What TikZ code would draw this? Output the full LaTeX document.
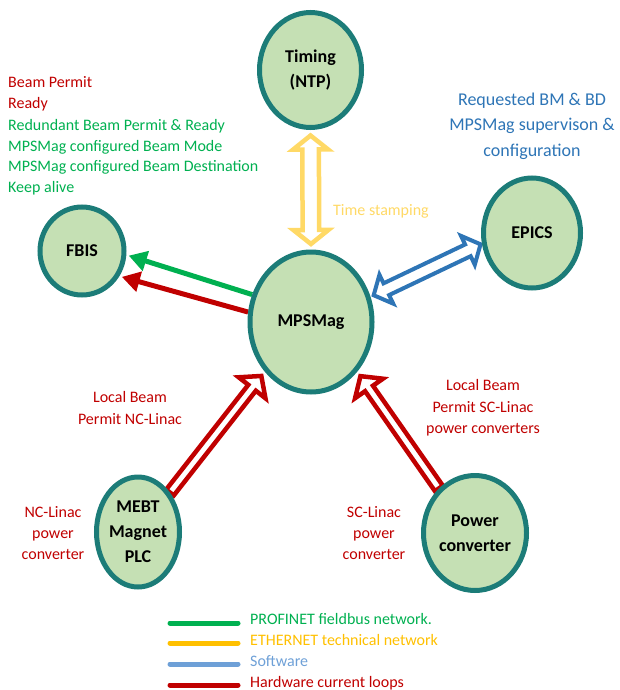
\documentclass[tikz,border=0pt]{standalone}
\usepackage{fontspec}
\setmainfont{Carlito}
\usetikzlibrary{shapes.geometric,calc,arrows.meta,backgrounds}
\definecolor{tealc}{RGB}{28,124,120}
\definecolor{fillg}{RGB}{197,224,180}
\definecolor{redc}{RGB}{192,0,0}
\definecolor{greenc}{RGB}{0,176,80}
\definecolor{yellc}{RGB}{255,217,102}
\definecolor{yelll}{RGB}{255,192,0}
\definecolor{bluec}{RGB}{46,117,182}
\definecolor{bluel}{RGB}{110,160,215}
\tikzset{
  unit/.style={ellipse, draw=tealc, line width=5pt, fill=fillg, inner sep=0pt,
    align=center, font=\bfseries\fontsize{18}{25}\selectfont},
  lab/.style={inner sep=0pt, font=\fontsize{16}{20}\selectfont},
  blab/.style={inner sep=0pt, font=\fontsize{18}{24}\selectfont, text=bluec},
  yarr/.style={draw=yellc, fill=white, line width=4.5pt},
  barr/.style={draw=bluec, fill=white, line width=4pt},
  rarr/.style={draw=redc, fill=white, line width=4.5pt},
  solidarr/.style={line width=5pt, -{Triangle[length=18pt,width=20pt]}, shorten >=2.5pt},
  leg/.style={line width=5pt, line cap=round}
}
% hollow single arrow: style, from, to, half shaft, half head, head length
\newcommand\harrowone[6]{%
  \coordinate (hxn) at ($(#3)!#6!(#2)$);
  \path[#1] ($(#2)!#4!90:(#3)$) -- ($(hxn)!#4!-90:(#2)$) -- ($(hxn)!#5!-90:(#2)$) -- (#3)
    -- ($(hxn)!#5!90:(#2)$) -- ($(hxn)!#4!90:(#2)$) -- ($(#2)!#4!-90:(#3)$) -- cycle;
}
% hollow double arrow
\newcommand\harrowtwo[6]{%
  \coordinate (hxa) at ($(#2)!#6!(#3)$);
  \coordinate (hxb) at ($(#3)!#6!(#2)$);
  \path[#1] (#2) -- ($(hxa)!#5!90:(#3)$) -- ($(hxa)!#4!90:(#3)$) -- ($(hxb)!#4!-90:(#2)$)
    -- ($(hxb)!#5!-90:(#2)$) -- (#3) -- ($(hxb)!#5!90:(#2)$) -- ($(hxb)!#4!90:(#2)$)
    -- ($(hxa)!#4!-90:(#3)$) -- ($(hxa)!#5!-90:(#3)$) -- cycle;
}
\begin{document}
\begin{tikzpicture}[x=1pt,y=-1pt]
\useasboundingbox (0,0) rectangle (619,690);

% nodes
\node[unit, minimum width=102pt, minimum height=115pt] (tim) at (310.5,70) {Timing\\(NTP)};
\node[unit, minimum width=122pt, minimum height=140pt] (mps) at (311,322) {MPSMag};
\node[unit, minimum width=84pt, minimum height=88pt] (fbis) at (82,251) {FBIS};
\node[unit, minimum width=97pt, minimum height=110pt] (epics) at (532,233) {EPICS};
\node[unit, minimum width=83pt, minimum height=110pt] (mebt) at (138,532) {MEBT\\Magnet\\PLC};
\node[unit, minimum width=103pt, minimum height=115pt] (pc) at (475,533) {Power\\converter};

% connectors
\begin{scope}[on background layer]
  \coordinate (y1) at ($(tim.south)!5.5pt!(mps.north)$);
  \coordinate (y2) at ($(mps.north)!5.5pt!(tim.south)$);
  \harrowtwo{yarr}{y1}{y2}{8.3pt}{17.5pt}{14pt}

  \coordinate (b1) at ($(mps.23)!3.5pt!(epics.192)$);
  \coordinate (b2) at ($(epics.192)!1.5pt!(mps.23)$);
  \harrowtwo{barr}{b1}{b2}{6.5pt}{16pt}{14pt}

  \coordinate (r1) at (mebt.51);
  \coordinate (r2) at ($(mps.227)!5.5pt!(mebt.51)$);
  \harrowone{rarr}{r1}{r2}{4.8pt}{17pt}{15pt}

  \coordinate (r3) at (pc.129);
  \coordinate (r4) at ($(mps.313)!5.5pt!(pc.129)$);
  \harrowone{rarr}{r3}{r4}{4.8pt}{17pt}{15pt}

  \draw[solidarr, greenc] (mps.155) -- (fbis.-5);
  \draw[solidarr, redc] (mps.171) -- (fbis.-34);
\end{scope}

% left list
\node[lab, text=redc, anchor=base west] (l1) at (8,88) {Beam Permit};
\node[lab, text=redc, anchor=base west] (l2) at (8,109) {Ready};
\node[lab, text=greenc, anchor=base west] (l3) at (8,130) {Redundant Beam Permit \& Ready};
\node[lab, text=greenc, anchor=base west] (l4) at (8,151) {MPSMag configured Beam Mode};
\node[lab, text=greenc, anchor=base west] (l5) at (8,171.5) {MPSMag configured Beam Destination};
\node[lab, text=greenc, anchor=base west] (l6) at (8,192) {Keep alive};

% blue text
\node[blab, anchor=base] (bt1) at (532,106) {Requested BM \& BD};
\node[blab, anchor=base] (bt2) at (532,131) {MPSMag supervison \&};
\node[blab, anchor=base] (bt3) at (532,156) {configuration};

% time stamping
\node[lab, text=yellc, anchor=base west] (ts) at (333,215) {Time stamping};

% red labels
\node[lab, text=redc, anchor=base] (nc1) at (130,402) {Local Beam};
\node[lab, text=redc, anchor=base] (nc2) at (130,424) {Permit NC-Linac};
\node[lab, text=redc, anchor=base] (sc1) at (483,390) {Local Beam};
\node[lab, text=redc, anchor=base] (sc2) at (483,412) {Permit SC-Linac};
\node[lab, text=redc, anchor=base] (sc3) at (483,433) {power converters};
\node[lab, text=redc, anchor=base] (np1) at (53,517) {NC-Linac};
\node[lab, text=redc, anchor=base] (np2) at (53,538) {power};
\node[lab, text=redc, anchor=base] (np3) at (53,559) {converter};
\node[lab, text=redc, anchor=base] (sp1) at (374,517) {SC-Linac};
\node[lab, text=redc, anchor=base] (sp2) at (374,538) {power};
\node[lab, text=redc, anchor=base] (sp3) at (374,559) {converter};

% legend
\coordinate (lg1a) at (170,623); \coordinate (lg1b) at (238,623);
\coordinate (lg2a) at (170,643); \coordinate (lg2b) at (238,643);
\coordinate (lg3a) at (170,664); \coordinate (lg3b) at (238,664);
\coordinate (lg4a) at (170,685); \coordinate (lg4b) at (238,685);
\draw[leg, greenc] (lg1a) -- (lg1b);
\draw[leg, yelll] (lg2a) -- (lg2b);
\draw[leg, bluel] (lg3a) -- (lg3b);
\draw[leg, redc] (lg4a) -- (lg4b);
\node[lab, text=greenc, anchor=base west] (lt1) at (250,624) {PROFINET fieldbus network.};
\node[lab, text=yelll, anchor=base west] (lt2) at (250,645) {ETHERNET technical network};
\node[lab, text=bluel, anchor=base west] (lt3) at (250,666) {Software};
\node[lab, text=redc, anchor=base west] (lt4) at (250,687) {Hardware current loops};
\end{tikzpicture}
\end{document}
